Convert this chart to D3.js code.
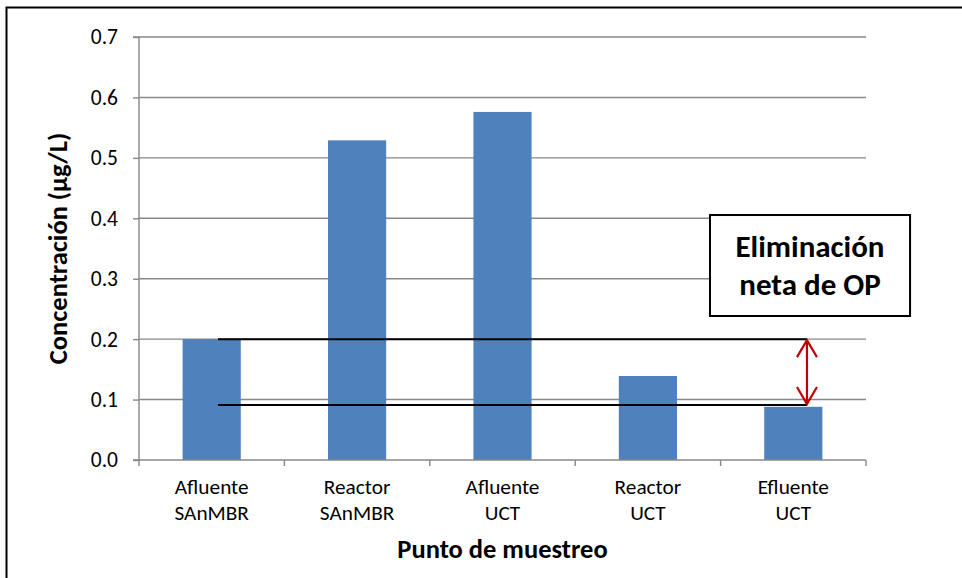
<!DOCTYPE html>
<html>
<head>
<meta charset="utf-8">
<script src="https://cdn.jsdelivr.net/npm/d3@7"></script>
<style>
  html, body { margin: 0; padding: 0; background: #fff; }
  svg { display: block; }
</style>
</head>
<body>
<svg id="chart" width="962" height="578"></svg>
<script>
// ---- data ----
const categories = [
  ["Afluente", "SAnMBR"],
  ["Reactor", "SAnMBR"],
  ["Afluente", "UCT"],
  ["Reactor", "UCT"],
  ["Efluente", "UCT"]
];
const values = [0.200, 0.529, 0.576, 0.139, 0.088];
const yTicks = [0, 0.1, 0.2, 0.3, 0.4, 0.5, 0.6, 0.7];
const yTickLabels = ["0.0", "0.1", "0.2", "0.3", "0.4", "0.5", "0.6", "0.7"];
const yTitle = "Concentración (µg/L)";
const xTitle = "Punto de muestreo";
// annotation: reference lines (value level, from/to category position)
const refLines = [
  { value: 0.200, from: 0.543, to: 4.594 },
  { value: 0.091, from: 0.543, to: 4.594 }
];
const arrow = { at: 4.594, from: 0.091, to: 0.200 };
const noteLines = ["Eliminación", "neta de OP"];
const noteBox = { x0: 3.927, x1: 5.303, yTop: 0.4054, yBottom: 0.2383 };

// ---- layout ----
const W = 962, H = 578;
const plot = { left: 139, right: 866, top: 37, bottom: 460 };
const FONT = "Calibri, Carlito, 'Liberation Sans', Arial, sans-serif";

const svg = d3.select("#chart");

const keys = categories.map(c => c.join(" "));
const x = d3.scaleBand().domain(keys).range([plot.left, plot.right])
  .paddingInner(0.6).paddingOuter(0.3);
const xc = d3.scaleLinear().domain([0, categories.length]).range([plot.left, plot.right]);
const y = d3.scaleLinear().domain([0, 0.7]).range([plot.bottom, plot.top]);

// outer frame (only top and left visible)
svg.append("path")
  .attr("d", `M6.5,${H} V7.5 H${W}`)
  .attr("fill", "none").attr("stroke", "#000").attr("stroke-width", 2);

// gridlines
svg.append("g").selectAll("line").data(yTicks.filter(t => t > 0)).join("line")
  .attr("x1", plot.left).attr("x2", plot.right)
  .attr("y1", d => y(d)).attr("y2", d => y(d))
  .attr("stroke", "#888").attr("stroke-width", 1.4);

// y axis
const yAxis = d3.axisLeft(y).tickValues(yTicks)
  .tickFormat((d, i) => yTickLabels[i]).tickSize(6).tickPadding(15);
const gy = svg.append("g").attr("transform", `translate(${plot.left},0)`).call(yAxis);
gy.select(".domain").attr("stroke", "#888").attr("stroke-width", 1.4)
  .attr("d", `M-6,${plot.top}H0V${plot.bottom}H-6`);
gy.selectAll(".tick line").attr("stroke", "#888").attr("stroke-width", 1.4);
gy.selectAll(".tick text").attr("font-family", FONT).attr("font-size", 21.5)
  .attr("fill", "#000");

// bars
svg.append("g").selectAll("rect").data(values).join("rect")
  .attr("x", (d, i) => x(keys[i]))
  .attr("width", x.bandwidth())
  .attr("y", d => y(d))
  .attr("height", d => y(0) - y(d))
  .attr("fill", "#4f81bd");

// x axis line and ticks at band edges
const edges = d3.range(categories.length + 1);
svg.append("line")
  .attr("x1", plot.left).attr("x2", plot.right)
  .attr("y1", y(0)).attr("y2", y(0))
  .attr("stroke", "#888").attr("stroke-width", 1.4);
svg.append("g").selectAll("line").data(edges).join("line")
  .attr("x1", d => xc(d)).attr("x2", d => xc(d))
  .attr("y1", y(0)).attr("y2", y(0) + 6)
  .attr("stroke", "#888").attr("stroke-width", 1.4);

// category labels
const lab = svg.append("g").selectAll("text").data(categories).join("text")
  .attr("font-family", FONT).attr("font-size", 21.3).attr("fill", "#000")
  .attr("text-anchor", "middle");
lab.each(function(d, i) {
  const t = d3.select(this);
  const cx = x(keys[i]) + x.bandwidth() / 2;
  d.forEach((line, j) => {
    t.append("tspan").attr("x", cx).attr("y", 494 + j * 26).text(line);
  });
});

// axis titles
svg.append("text")
  .attr("x", (plot.left + plot.right) / 2).attr("y", 558)
  .attr("text-anchor", "middle")
  .attr("font-family", FONT).attr("font-weight", "bold").attr("font-size", 26.5)
  .text(xTitle);
svg.append("text")
  .attr("transform", `translate(67,${(plot.top + plot.bottom) / 2}) rotate(-90)`)
  .attr("text-anchor", "middle")
  .attr("font-family", FONT).attr("font-weight", "bold").attr("font-size", 26.5)
  .text(yTitle);

// reference lines
svg.append("g").selectAll("line").data(refLines).join("line")
  .attr("x1", d => xc(d.from)).attr("x2", d => xc(d.to))
  .attr("y1", d => y(d.value)).attr("y2", d => y(d.value))
  .attr("stroke", "#000").attr("stroke-width", 2);

// double-headed red arrow
const ax = xc(arrow.at), ay1 = y(arrow.to), ay2 = y(arrow.from);
const red = "#c00000";
const ag = svg.append("g").attr("fill", "none").attr("stroke", red)
  .attr("stroke-width", 2.2).attr("stroke-linejoin", "miter");
ag.append("line").attr("x1", ax).attr("x2", ax).attr("y1", ay1 + 1).attr("y2", ay2 - 1);
ag.append("path").attr("d", `M${ax - 10},${ay1 + 18} L${ax},${ay1 + 1} L${ax + 10},${ay1 + 18}`);
ag.append("path").attr("d", `M${ax - 10},${ay2 - 18} L${ax},${ay2 - 1} L${ax + 10},${ay2 - 18}`);

// note box
const bx0 = xc(noteBox.x0), bx1 = xc(noteBox.x1);
const by0 = y(noteBox.yTop), by1 = y(noteBox.yBottom);
svg.append("rect")
  .attr("x", bx0).attr("y", by0).attr("width", bx1 - bx0).attr("height", by1 - by0)
  .attr("fill", "#fff").attr("stroke", "#000").attr("stroke-width", 2);
svg.append("g").selectAll("text").data(noteLines).join("text")
  .attr("x", (bx0 + bx1) / 2).attr("y", (d, i) => 257 + i * 38)
  .attr("text-anchor", "middle")
  .attr("font-family", FONT).attr("font-weight", "bold").attr("font-size", 31)
  .attr("fill", "#000")
  .text(d => d);
</script>
</body>
</html>
